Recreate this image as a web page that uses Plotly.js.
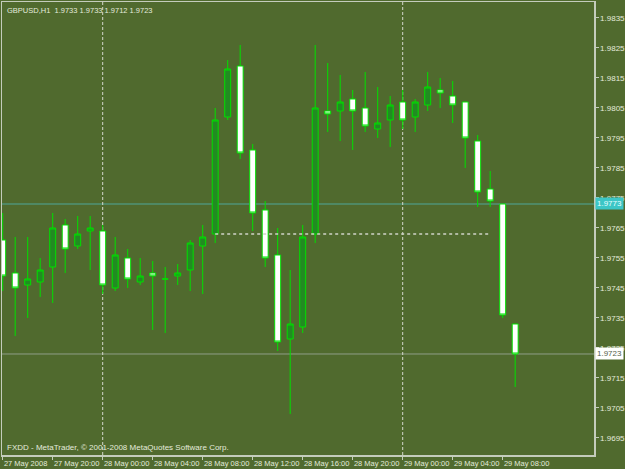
<!DOCTYPE html>
<html>
<head>
<meta charset="utf-8">
<script src="https://cdn.plot.ly/plotly-3.0.1.min.js"></script>
<style>
html,body{margin:0;padding:0;background:#506a2e;}
#chart{width:625px;height:469px;}
</style>
</head>
<body>
<div id="chart"></div>
<script>
// Hourly bars, GBPUSD H1
var times = [
  '2008-05-27 16:00','2008-05-27 17:00','2008-05-27 18:00','2008-05-27 19:00',
  '2008-05-27 20:00','2008-05-27 21:00','2008-05-27 22:00','2008-05-27 23:00',
  '2008-05-28 00:00','2008-05-28 01:00','2008-05-28 02:00','2008-05-28 03:00',
  '2008-05-28 04:00','2008-05-28 05:00','2008-05-28 06:00','2008-05-28 07:00',
  '2008-05-28 08:00','2008-05-28 09:00','2008-05-28 10:00','2008-05-28 11:00',
  '2008-05-28 12:00','2008-05-28 13:00','2008-05-28 14:00','2008-05-28 15:00',
  '2008-05-28 16:00','2008-05-28 17:00','2008-05-28 18:00','2008-05-28 19:00',
  '2008-05-28 20:00','2008-05-28 21:00','2008-05-28 22:00','2008-05-28 23:00',
  '2008-05-29 00:00','2008-05-29 01:00','2008-05-29 02:00','2008-05-29 03:00',
  '2008-05-29 04:00','2008-05-29 05:00','2008-05-29 06:00','2008-05-29 07:00',
  '2008-05-29 08:00','2008-05-29 09:00'
];
var opens = [
  1.9761,1.9750,1.9746,1.9747,1.9752,1.9766,1.9759,1.9764,
  1.9764,1.9745,1.9755,1.9747,1.9750,1.9748,1.9749,1.9751,
  1.9759,1.9763,1.9802,1.9819,1.9791,1.9771,1.9756,1.9728,
  1.9732,1.9763,1.9804,1.9804,1.9808,1.9805,1.9798,1.9801,
  1.9807,1.9802,1.9806,1.9811,1.9809,1.9807,1.9794,1.9778,
  1.9773,1.9733
];
var highs = [
  1.9770,1.9762,1.9762,1.9755,1.9770,1.9768,1.9769,1.9769,
  1.9766,1.9762,1.9758,1.9755,1.9754,1.9752,1.9753,1.9761,
  1.9766,1.9805,1.9821,1.9826,1.9793,1.9774,1.9765,1.9751,
  1.9766,1.9826,1.9820,1.9816,1.9811,1.9817,1.9812,1.9809,
  1.9811,1.9808,1.9817,1.9815,1.9814,1.9807,1.9796,1.9784,
  1.9773,1.9733
];
var lows = [
  1.9744,1.9729,1.9735,1.9742,1.9740,1.9750,1.9758,1.9751,
  1.9743,1.9744,1.9745,1.9746,1.9731,1.9730,1.9746,1.9744,
  1.9743,1.9760,1.9801,1.9788,1.9764,1.9752,1.9724,1.9703,
  1.9730,1.9760,1.9797,1.9794,1.9791,1.9797,1.9795,1.9792,
  1.9798,1.9797,1.9804,1.9805,1.9800,1.9785,1.9772,1.9772,
  1.9735,1.9712
];
var closes = [
  1.9749,1.9745,1.9748,1.9751,1.9765,1.9758,1.9763,1.9765,
  1.9746,1.9756,1.9748,1.9749,1.9749,1.9748,1.9750,1.9760,
  1.9762,1.9801,1.9818,1.9790,1.9770,1.9755,1.9727,1.9733,
  1.9762,1.9805,1.9803,1.9807,1.9804,1.9799,1.9800,1.9806,
  1.9801,1.9807,1.9812,1.9810,1.9806,1.9795,1.9777,1.9774,
  1.9736,1.9723
];

// Axis labels
var xTickVals = ['2008-05-27 16:00','2008-05-27 20:00','2008-05-28 00:00','2008-05-28 04:00',
  '2008-05-28 08:00','2008-05-28 12:00','2008-05-28 16:00','2008-05-28 20:00',
  '2008-05-29 00:00','2008-05-29 04:00','2008-05-29 08:00'];
var xTickText = ['27 May 2008','27 May 20:00','28 May 00:00','28 May 04:00',
  '28 May 08:00','28 May 12:00','28 May 16:00','28 May 20:00',
  '29 May 00:00','29 May 04:00','29 May 08:00'];

// Reference levels
var levelTimes = ['2008-05-28 09:00','2008-05-29 07:00'];
var levelValues = [1.9763, 1.9763];
var askPrice = 1.9773;
var bidPrice = 1.9723;
var daySeparators = ['2008-05-28 00:00','2008-05-29 00:00'];
var headerText = 'GBPUSD,H1  1.9733 1.9733 1.9712 1.9723';
var footerText = 'FXDD - MetaTrader, \u00a9 2001-2008 MetaQuotes Software Corp.';

var BG = '#506a2e';
var FG = '#e4eadc';
var FRAME = '#c4ccbc';
var LIME = '#00e000';

var traces = [
  {
    type: 'candlestick',
    x: times, open: opens, high: highs, low: lows, close: closes,
    increasing: {line: {color: LIME, width: 1}, fillcolor: '#228b22'},
    decreasing: {line: {color: LIME, width: 1}, fillcolor: '#ffffff'},
    whiskerwidth: 0,
    hoverinfo: 'skip',
    showlegend: false
  },
  {
    type: 'scatter', mode: 'lines',
    x: levelTimes, y: levelValues,
    line: {color: '#cfd3c8', width: 1.5, dash: '3px,3px'},
    hoverinfo: 'skip', showlegend: false
  }
];

var shapes = [
  {type: 'line', xref: 'paper', x0: 0, x1: 1, yref: 'y', y0: askPrice, y1: askPrice,
   line: {color: '#4fa59a', width: 1.2}, layer: 'below'},
  {type: 'line', xref: 'paper', x0: 0, x1: 1, yref: 'y', y0: bidPrice, y1: bidPrice,
   line: {color: '#8f9e88', width: 1}, layer: 'below'}
];
daySeparators.forEach(function (d) {
  shapes.push({type: 'line', xref: 'x', x0: d, x1: d, yref: 'paper', y0: 0, y1: 1,
    line: {color: '#d4d8cc', width: 1, dash: '3px,2px'}, layer: 'below'});
});

var layout = {
  width: 625, height: 469,
  margin: {l: 2, r: 31, t: 2, b: 14, pad: 0},
  paper_bgcolor: BG, plot_bgcolor: BG,
  font: {family: 'Liberation Sans, Arial, sans-serif', size: 8, color: FG},
  showlegend: false,
  boxgap: 0.32,
  xaxis: {
    type: 'date',
    range: ['2008-05-27 15:56:40', '2008-05-29 15:18:20'],
    rangeslider: {visible: false},
    tickmode: 'array', tickvals: xTickVals, ticktext: xTickText,
    ticklabelposition: 'outside right',
    tickangle: 0,
    ticks: 'outside', ticklen: 3, tickcolor: FRAME, tickwidth: 1,
    tickfont: {size: 7.5, color: FG},
    showgrid: false, zeroline: false,
    showline: true, linecolor: FRAME, linewidth: 1.5, mirror: true,
    automargin: false,
    fixedrange: true
  },
  yaxis: {
    side: 'right',
    range: [1.968933, 1.984033],
    tickmode: 'linear', tick0: 1.9695, dtick: 0.001, tickformat: '.4f',
    ticks: 'outside', ticklen: 3, tickcolor: FRAME, tickwidth: 1,
    tickfont: {size: 8, color: FG},
    showgrid: false, zeroline: false,
    showline: true, linecolor: FRAME, linewidth: 1.5, mirror: true,
    automargin: false,
    fixedrange: true
  },
  shapes: shapes,
  annotations: [
    {xref: 'paper', yref: 'paper', x: 0, y: 1, xanchor: 'left', yanchor: 'top',
     xshift: 3, yshift: -2, text: headerText, showarrow: false,
     font: {size: 7.5, color: FG}},
    {xref: 'paper', yref: 'paper', x: 0, y: 0, xanchor: 'left', yanchor: 'bottom',
     xshift: 3, yshift: 1, text: footerText, showarrow: false,
     font: {size: 8, color: FG}},
    {xref: 'paper', yref: 'y', x: 1, y: askPrice, xanchor: 'left', yanchor: 'middle',
     xshift: 1, text: askPrice.toFixed(4), showarrow: false,
     bgcolor: '#3cc6c6', borderpad: 1, font: {size: 8, color: '#e8ffff'}},
    {xref: 'paper', yref: 'y', x: 1, y: bidPrice, xanchor: 'left', yanchor: 'middle',
     xshift: 1, text: bidPrice.toFixed(4), showarrow: false,
     bgcolor: '#ffffff', borderpad: 1, font: {size: 8, color: '#55604c'}}
  ]
};

Plotly.newPlot('chart', traces, layout, {displayModeBar: false, staticPlot: true});
</script>
</body>
</html>
